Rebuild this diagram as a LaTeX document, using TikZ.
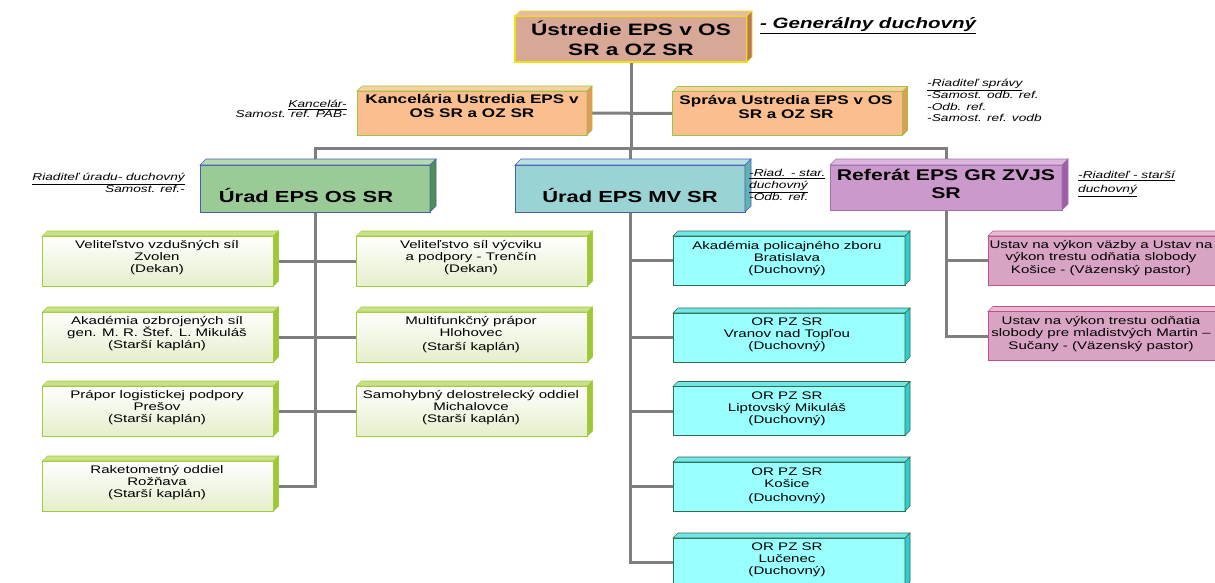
\documentclass[tikz,border=0pt]{standalone}
\usepackage{fontspec}
\setmainfont{Liberation Sans}[FakeStretch=1.37]
\usetikzlibrary{calc,backgrounds}
\definecolor{linegray}{HTML}{7F7F7F}
\definecolor{topfill}{HTML}{D8A896}
\definecolor{topborder}{HTML}{F0E010}
\definecolor{topside}{HTML}{B8785C}
\definecolor{topface}{HTML}{E6BBA6}
\definecolor{orfill}{HTML}{FBBF8F}
\definecolor{orborder}{HTML}{9CC63C}
\definecolor{orside}{HTML}{E4985C}
\definecolor{orface}{HTML}{FCCFA6}
\definecolor{osfill}{HTML}{9ACB96}
\definecolor{blueborder}{HTML}{4A5CB8}
\definecolor{osside}{HTML}{4E9052}
\definecolor{osface}{HTML}{B4DAB0}
\definecolor{mvfill}{HTML}{99D3D3}
\definecolor{mvside}{HTML}{5FB3B3}
\definecolor{mvface}{HTML}{B8E2E2}
\definecolor{reffill}{HTML}{CC99CC}
\definecolor{refborder}{HTML}{9C72B3}
\definecolor{refside}{HTML}{A15EA6}
\definecolor{refface}{HTML}{DDB6DD}
\definecolor{gbottom}{HTML}{E4EFCB}
\definecolor{gborder}{HTML}{A2CC3A}
\definecolor{gside}{HTML}{9CC83A}
\definecolor{gface}{HTML}{C8E18A}
\definecolor{tfill}{HTML}{99FFFF}
\definecolor{tborder}{HTML}{2F6D4E}
\definecolor{tside}{HTML}{33CCCC}
\definecolor{tface}{HTML}{70E6E6}
\definecolor{pfill}{HTML}{D9A3C3}
\definecolor{pborder}{HTML}{C24F85}
\definecolor{pside}{HTML}{C0558A}
\definecolor{pface}{HTML}{E6BCD4}
\newcommand\cubeside[5]{% name, top face, side face, border, depth
  \filldraw[fill=#2,draw=#4,line width=0.6pt] (#1.north west) -- ++(#5,-#5) -- ($(#1.north east)+(#5,-#5)$) -- (#1.north east) -- cycle;
  \filldraw[fill=#3,draw=#4,line width=0.6pt] (#1.north east) -- ++(#5,-#5) -- ($(#1.south east)+(#5,-#5)$) -- (#1.south east) -- cycle;
}
\begin{document}
\begin{tikzpicture}[x=1pt,y=-1pt,
  conn/.style={draw=linegray,line width=3pt},
  boxbase/.style={inner sep=0pt,outer sep=0pt},
  topbox/.style={boxbase,draw=topborder,fill=topfill,line width=1.4pt,minimum width=232pt,minimum height=46pt},
  orbox/.style={boxbase,draw=orborder,fill=orfill,line width=1pt,minimum width=230pt,minimum height=44pt},
  osbox/.style={boxbase,draw=blueborder,fill=osfill,line width=1pt,minimum width=230pt,minimum height=47pt},
  mvbox/.style={boxbase,draw=blueborder,fill=mvfill,line width=1pt,minimum width=230pt,minimum height=47pt},
  refbox/.style={boxbase,draw=refborder,fill=reffill,line width=1pt,minimum width=232pt,minimum height=45pt},
  gbox/.style={boxbase,draw=gborder,top color=white,bottom color=gbottom,line width=1pt,minimum width=231pt,minimum height=50pt},
  tbox/.style={boxbase,draw=tborder,fill=tfill,line width=1pt,minimum width=232pt,minimum height=49pt},
  pbox/.style={boxbase,draw=pborder,fill=pfill,line width=1pt,minimum width=232pt,minimum height=49pt},
  bigtxt/.style={inner sep=0pt,align=center,font=\bfseries\fontsize{16}{18}\selectfont},
  midtxt/.style={inner sep=0pt,align=center,font=\bfseries\fontsize{12.5}{14.5}\selectfont},
  smalltxt/.style={inner sep=0pt,align=center,font=\fontsize{11}{12}\selectfont},
  anl/.style={inner sep=0pt,align=left,font=\itshape\fontsize{10}{11.3}\selectfont},
  anr/.style={inner sep=0pt,align=right,font=\itshape\fontsize{10}{9}\selectfont}
]
\useasboundingbox (0,0) rectangle (1215,582);

% top level
\node[topbox] (top) at (631,39) {};
\cubeside{top}{topface}{topside}{topborder}{5}
\node[bigtxt,font=\bfseries\fontsize{16.5}{20}\selectfont] (topt) at (631,38) {Ústredie EPS v OS\\SR a OZ SR};
\node[inner sep=0pt,anchor=west,font=\bfseries\itshape\fontsize{15}{17}\selectfont] (gen) at (760,26) {\underline{- Generálny duchovný}};

% second level
\node[orbox] (kanc) at (472,113) {};
\cubeside{kanc}{orface}{orside}{orborder}{5}
\node[midtxt] (kanct) at (472,106) {Kancelária Ustredia EPS v\\OS SR a OZ SR};
\node[orbox] (sprava) at (787.5,113.5) {};
\cubeside{sprava}{orface}{orside}{orborder}{5}
\node[midtxt] (spravat) at (786,107) {Správa Ustredia EPS v OS\\SR a OZ SR};
\node[anr,anchor=east] (kancann) at (347,109) {\underline{Kancelár-}\\Samost. ref. PAB-};
\node[anl,anchor=north west] (spravaann) at (927,79) {\underline{-Riaditeľ správy}\\-Samost. odb. ref.\\-Odb. ref.\\-Samost. ref. vodb};

% third level
\node[osbox] (uos) at (315,188.5) {};
\cubeside{uos}{osface}{osside}{blueborder}{6}
\node[bigtxt] (uost) at (306,195) {Úrad EPS OS SR};
\node[mvbox] (umv) at (630,188.5) {};
\cubeside{umv}{mvface}{mvside}{blueborder}{6}
\node[bigtxt] (umvt) at (630,195) {Úrad EPS MV SR};
\node[refbox] (ref) at (946,187.5) {};
\cubeside{ref}{refface}{refside}{refborder}{6}
\node[bigtxt,font=\bfseries\fontsize{15.5}{18}\selectfont] (reft) at (946,184) {Referát EPS GR ZVJS\\SR};
\node[anr,anchor=east] (uosann) at (185,183) {\underline{Riaditeľ úradu- duchovný}\\Samost. ref.-};
\node[anl,font=\itshape\fontsize{10}{12}\selectfont,anchor=north west] (umvann) at (749,169) {\underline{-Riad. - star.}\\\underline{duchovný}\\-Odb. ref.};
\node[anl,font=\itshape\fontsize{10}{14}\selectfont,anchor=north west] (refann) at (1078,171) {\underline{-Riaditeľ - starší}\\\underline{duchovný}};

% green boxes
\node[gbox] (g1) at (158,261) {};
\cubeside{g1}{gface}{gside}{gborder}{5}
\node[smalltxt] (g1t) at (157,258) {Veliteľstvo vzdušných síl\\Zvolen\\(Dekan)};
\node[gbox] (g2) at (158,337) {};
\cubeside{g2}{gface}{gside}{gborder}{5}
\node[smalltxt] (g2t) at (157,334) {Akadémia ozbrojených síl\\gen. M. R. Štef. L. Mikuláš\\(Starší kaplán)};
\node[gbox] (g3) at (158,411) {};
\cubeside{g3}{gface}{gside}{gborder}{5}
\node[smalltxt] (g3t) at (157,408) {Prápor logistickej podpory\\Prešov\\(Starší kaplán)};
\node[gbox] (g4) at (158,486) {};
\cubeside{g4}{gface}{gside}{gborder}{5}
\node[smalltxt] (g4t) at (157,483) {Raketometný oddiel\\Rožňava\\(Starší kaplán)};
\node[gbox] (h1) at (472,261) {};
\cubeside{h1}{gface}{gside}{gborder}{5}
\node[smalltxt] (h1t) at (471,258) {Veliteľstvo síl výcviku\\a podpory - Trenčín\\(Dekan)};
\node[gbox] (h2) at (472,337) {};
\cubeside{h2}{gface}{gside}{gborder}{5}
\node[smalltxt] (h2t) at (471,335) {Multifunkčný prápor\\Hlohovec\\[2pt](Starší kaplán)};
\node[gbox] (h3) at (472,411) {};
\cubeside{h3}{gface}{gside}{gborder}{5}
\node[smalltxt] (h3t) at (471,408) {Samohybný delostrelecký oddiel\\Michalovce\\(Starší kaplán)};

% teal boxes
\node[tbox] (t1) at (789,260.5) {};
\cubeside{t1}{tface}{tside}{tborder}{5}
\node[smalltxt] (t1t) at (787,259) {Akadémia policajného zboru\\Bratislava\\(Duchovný)};
\node[tbox] (t2) at (789,337.5) {};
\cubeside{t2}{tface}{tside}{tborder}{5}
\node[smalltxt] (t2t) at (787,335) {OR PZ SR\\Vranov nad Topľou\\(Duchovný)};
\node[tbox] (t3) at (789,411) {};
\cubeside{t3}{tface}{tside}{tborder}{5}
\node[smalltxt] (t3t) at (787,409) {OR PZ SR\\Liptovský Mikuláš\\(Duchovný)};
\node[tbox] (t4) at (789,486.5) {};
\cubeside{t4}{tface}{tside}{tborder}{5}
\node[smalltxt] (t4t) at (787,486) {OR PZ SR\\Košice\\[2pt](Duchovný)};
\node[tbox] (t5) at (789,562.5) {};
\cubeside{t5}{tface}{tside}{tborder}{5}
\node[smalltxt] (t5t) at (787,560) {OR PZ SR\\Lučenec\\(Duchovný)};

% pink boxes
\node[pbox] (p1) at (1104,260.5) {};
\cubeside{p1}{pface}{pside}{pborder}{5}
\node[smalltxt,font=\fontsize{11}{12.5}\selectfont] (p1t) at (1101,258) {Ustav na výkon väzby a Ustav na\\výkon trestu odňatia slobody\\Košice - (Väzenský pastor)};
\node[pbox] (p2) at (1104,336) {};
\cubeside{p2}{pface}{pside}{pborder}{5}
\node[smalltxt,font=\fontsize{11}{12.5}\selectfont] (p2t) at (1101,334) {Ustav na výkon trestu odňatia\\slobody pre mladistvých Martin –\\Sučany - (Väzenský pastor)};

% connectors
\begin{scope}[on background layer]
\coordinate (bar) at (631,148);
\draw[conn] (top.south) -- (bar);
\draw[conn] (kanc.east) -- (sprava.west);
\draw[conn] (uos.north) -- (uos.north |- bar) -- (ref.north |- bar) -- (ref.north);
\draw[conn] (umv.north) -- (umv.north |- bar);
\draw[conn] (uos.south) -- (uos.south |- g4.east) -- (g4.east);
\draw[conn] (g1.east) -- (h1.west);
\draw[conn] (g2.east) -- (h2.west);
\draw[conn] (g3.east) -- (h3.west);
\draw[conn] (umv.south) -- (umv.south |- t5.west) -- (t5.west);
\draw[conn] (umv.south |- t1.west) -- (t1.west);
\draw[conn] (umv.south |- t2.west) -- (t2.west);
\draw[conn] (umv.south |- t3.west) -- (t3.west);
\draw[conn] (umv.south |- t4.west) -- (t4.west);
\draw[conn] (ref.south) -- (ref.south |- p2.west) -- (p2.west);
\draw[conn] (ref.south |- p1.west) -- (p1.west);
\end{scope}
\end{tikzpicture}
\end{document}
